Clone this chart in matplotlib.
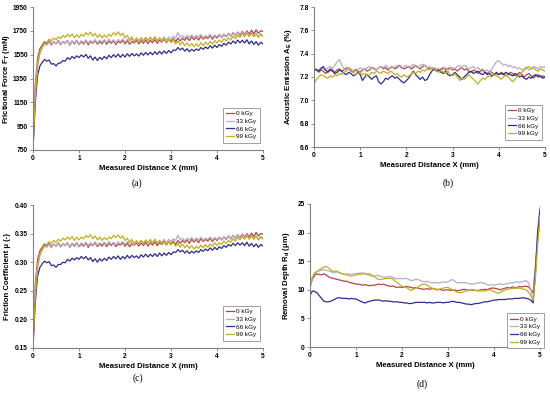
import numpy as np
import matplotlib.pyplot as plt
from matplotlib.ticker import FormatStrFormatter

plt.rcParams['font.family'] = ['Liberation Sans', 'DejaVu Sans']
plt.rcParams['mathtext.fontset'] = 'custom'
plt.rcParams['mathtext.rm'] = 'Liberation Sans'
plt.rcParams['mathtext.bf'] = 'Liberation Sans:bold'

doses = ["0 kGy", "33 kGy", "66 kGy", "99 kGy"]
colors = ["#B0483F", "#B9AAC6", "#2E2E8C", "#C4AE22"]

# measured distance (mm), one sample every 0.05 mm
x = np.linspace(0, 5, 101)

# (a) frictional force (mN)
force_0 = [760, 1300, 1520, 1600, 1630, 1660, 1640, 1665, 1635, 1660,
           1640, 1670, 1635, 1660, 1645, 1670, 1630, 1665, 1640, 1670,
           1635, 1660, 1640, 1668, 1632, 1662, 1645, 1670, 1638, 1660,
           1642, 1672, 1636, 1665, 1645, 1668, 1634, 1662, 1648, 1670,
           1640, 1666, 1638, 1660, 1648, 1672, 1640, 1668, 1645, 1675,
           1642, 1670, 1650, 1676, 1645, 1672, 1655, 1680, 1650, 1678,
           1660, 1685, 1658, 1690, 1665, 1688, 1670, 1695, 1668, 1700,
           1675, 1698, 1672, 1705, 1680, 1700, 1685, 1712, 1680, 1708,
           1690, 1715, 1695, 1720, 1700, 1728, 1705, 1735, 1710, 1740,
           1715, 1745, 1720, 1750, 1722, 1755, 1725, 1758, 1730, 1750,
           1745]
force_33 = [770, 1250, 1480, 1570, 1610, 1640, 1630, 1655, 1625, 1660,
            1640, 1665, 1630, 1662, 1645, 1668, 1635, 1665, 1648, 1672,
            1640, 1668, 1650, 1675, 1645, 1670, 1652, 1678, 1648, 1672,
            1655, 1676, 1650, 1680, 1656, 1675, 1650, 1678, 1660, 1682,
            1655, 1680, 1662, 1685, 1658, 1682, 1665, 1690, 1660, 1688,
            1668, 1692, 1665, 1695, 1670, 1690, 1675, 1700, 1672, 1698,
            1680, 1705, 1690, 1735, 1695, 1710, 1688, 1712, 1695, 1715,
            1690, 1712, 1698, 1718, 1692, 1710, 1700, 1720, 1695, 1715,
            1700, 1722, 1698, 1725, 1705, 1730, 1702, 1735, 1708, 1740,
            1705, 1738, 1710, 1742, 1700, 1735, 1705, 1730, 1700, 1725,
            1710]
force_66 = [760, 1150, 1380, 1455, 1485, 1510, 1495, 1505, 1470, 1475,
            1455, 1478, 1480, 1500, 1495, 1525, 1510, 1535, 1518, 1540,
            1525, 1548, 1530, 1552, 1520, 1540, 1505, 1530, 1500, 1528,
            1510, 1535, 1515, 1545, 1525, 1550, 1530, 1555, 1528, 1552,
            1530, 1558, 1535, 1560, 1540, 1556, 1538, 1565, 1545, 1568,
            1548, 1570, 1550, 1575, 1552, 1578, 1555, 1582, 1560, 1585,
            1565, 1590, 1585, 1610, 1590, 1605, 1580, 1600, 1575, 1595,
            1580, 1598, 1585, 1610, 1595, 1615, 1600, 1625, 1605, 1630,
            1610, 1635, 1620, 1645, 1630, 1655, 1640, 1665, 1645, 1672,
            1650, 1670, 1648, 1675, 1640, 1665, 1635, 1660, 1630, 1655,
            1640]
force_99 = [770, 1200, 1450, 1560, 1610, 1640, 1655, 1680, 1665, 1690,
            1675, 1700, 1685, 1712, 1695, 1720, 1700, 1725, 1692, 1718,
            1695, 1722, 1705, 1735, 1715, 1740, 1705, 1728, 1695, 1720,
            1690, 1715, 1695, 1722, 1705, 1735, 1715, 1742, 1710, 1730,
            1690, 1712, 1675, 1700, 1660, 1690, 1665, 1692, 1668, 1695,
            1670, 1698, 1672, 1700, 1665, 1690, 1660, 1688, 1655, 1680,
            1650, 1675, 1640, 1665, 1632, 1658, 1625, 1650, 1620, 1645,
            1615, 1642, 1620, 1650, 1625, 1655, 1632, 1660, 1640, 1668,
            1648, 1672, 1655, 1685, 1665, 1692, 1675, 1705, 1685, 1715,
            1695, 1725, 1700, 1730, 1705, 1728, 1700, 1725, 1695, 1720,
            1700]

# (b) acoustic emission (%)
ae_0 = [7.25, 7.27, 7.24, 7.26, 7.25, 7.23, 7.25, 7.27, 7.26, 7.24,
        7.26, 7.27, 7.25, 7.26, 7.28, 7.27, 7.25, 7.24, 7.26, 7.25,
        7.24, 7.26, 7.27, 7.25, 7.26, 7.28, 7.27, 7.26, 7.28, 7.29,
        7.27, 7.28, 7.26, 7.28, 7.29, 7.27, 7.28, 7.30, 7.28, 7.27,
        7.28, 7.29, 7.27, 7.28, 7.30, 7.28, 7.27, 7.29, 7.30, 7.28,
        7.27, 7.28, 7.26, 7.27, 7.25, 7.27, 7.28, 7.26, 7.27, 7.28,
        7.26, 7.27, 7.25, 7.27, 7.28, 7.26, 7.27, 7.25, 7.24, 7.26,
        7.25, 7.23, 7.25, 7.26, 7.24, 7.23, 7.25, 7.24, 7.22, 7.23,
        7.22, 7.24, 7.23, 7.21, 7.22, 7.24, 7.23, 7.21, 7.22, 7.24,
        7.22, 7.20, 7.22, 7.23, 7.21, 7.19, 7.21, 7.22, 7.20, 7.21,
        7.20]
ae_33 = [7.25, 7.27, 7.26, 7.28, 7.27, 7.26, 7.28, 7.29, 7.27, 7.30,
         7.33, 7.35, 7.30, 7.27, 7.26, 7.28, 7.27, 7.25, 7.27, 7.26,
         7.28, 7.27, 7.26, 7.28, 7.29, 7.27, 7.28, 7.26, 7.28, 7.29,
         7.28, 7.30, 7.28, 7.27, 7.29, 7.28, 7.30, 7.29, 7.27, 7.29,
         7.30, 7.28, 7.29, 7.31, 7.29, 7.28, 7.30, 7.31, 7.30, 7.28,
         7.29, 7.27, 7.28, 7.26, 7.27, 7.25, 7.27, 7.28, 7.26, 7.27,
         7.28, 7.27, 7.29, 7.30, 7.28, 7.30, 7.29, 7.27, 7.28, 7.29,
         7.27, 7.28, 7.26, 7.27, 7.25, 7.26, 7.24, 7.27, 7.30, 7.33,
         7.34, 7.32, 7.30, 7.31, 7.29, 7.30, 7.28, 7.29, 7.27, 7.28,
         7.26, 7.27, 7.28, 7.26, 7.27, 7.29, 7.28, 7.27, 7.29, 7.28,
         7.29]
ae_66 = [7.27, 7.26, 7.25, 7.27, 7.29, 7.26, 7.24, 7.26, 7.25, 7.23,
         7.24, 7.26, 7.25, 7.23, 7.22, 7.24, 7.23, 7.21, 7.22, 7.24,
         7.22, 7.17, 7.20, 7.22, 7.20, 7.18, 7.20, 7.21, 7.16, 7.14,
         7.16, 7.19, 7.18, 7.20, 7.21, 7.19, 7.20, 7.18, 7.16, 7.15,
         7.17, 7.19, 7.22, 7.25, 7.22, 7.20, 7.18, 7.20, 7.17, 7.18,
         7.22, 7.25, 7.27, 7.25, 7.26, 7.24, 7.23, 7.25, 7.22, 7.21,
         7.22, 7.24, 7.22, 7.20, 7.18, 7.20, 7.22, 7.24, 7.25, 7.23,
         7.24, 7.25, 7.23, 7.22, 7.24, 7.22, 7.23, 7.21, 7.22, 7.24,
         7.22, 7.23, 7.22, 7.24, 7.23, 7.22, 7.21, 7.23, 7.22, 7.20,
         7.21, 7.19, 7.18, 7.20, 7.19, 7.21, 7.22, 7.20, 7.21, 7.19,
         7.20]
ae_99 = [7.14, 7.18, 7.20, 7.22, 7.21, 7.20, 7.19, 7.21, 7.20, 7.22,
         7.21, 7.23, 7.22, 7.24, 7.25, 7.27, 7.26, 7.24, 7.22, 7.23,
         7.24, 7.22, 7.23, 7.21, 7.22, 7.24, 7.23, 7.25, 7.24, 7.23,
         7.25, 7.24, 7.23, 7.25, 7.24, 7.22, 7.23, 7.21, 7.20, 7.22,
         7.20, 7.21, 7.22, 7.24, 7.23, 7.25, 7.24, 7.26, 7.25, 7.27,
         7.26, 7.28, 7.27, 7.25, 7.24, 7.26, 7.24, 7.23, 7.25, 7.22,
         7.21, 7.23, 7.20, 7.17, 7.19, 7.18, 7.20, 7.22, 7.20, 7.18,
         7.16, 7.14, 7.17, 7.19, 7.18, 7.20, 7.21, 7.20, 7.22, 7.21,
         7.20, 7.18, 7.20, 7.22, 7.20, 7.18, 7.16, 7.18, 7.20, 7.22,
         7.24, 7.26, 7.28, 7.29, 7.27, 7.28, 7.26, 7.25, 7.27, 7.26,
         7.25]

# (c) friction coefficient, in thousandths
mu_0 = [152, 262, 305, 320, 326, 332, 328, 333, 327, 332,
        328, 334, 327, 332, 329, 334, 326, 333, 328, 334,
        327, 332, 328, 334, 326, 332, 329, 334, 327, 332,
        328, 334, 327, 333, 329, 334, 327, 332, 330, 334,
        328, 333, 327, 332, 330, 334, 328, 334, 329, 335,
        328, 334, 330, 335, 329, 334, 331, 336, 330, 336,
        332, 337, 331, 338, 333, 338, 334, 339, 333, 340,
        335, 340, 334, 341, 336, 340, 337, 342, 336, 342,
        338, 343, 339, 344, 340, 346, 341, 347, 342, 348,
        343, 349, 344, 350, 344, 351, 345, 352, 346, 350,
        349]
mu_33 = [154, 250, 296, 314, 322, 328, 326, 331, 325, 332,
         328, 333, 326, 332, 329, 334, 327, 333, 330, 334,
         328, 334, 330, 335, 329, 334, 330, 336, 329, 334,
         331, 335, 330, 336, 331, 335, 330, 336, 332, 336,
         331, 336, 332, 337, 331, 336, 333, 338, 332, 338,
         334, 338, 333, 339, 334, 338, 335, 340, 334, 340,
         336, 341, 338, 347, 339, 342, 337, 342, 339, 343,
         338, 342, 339, 344, 338, 342, 340, 344, 339, 343,
         340, 344, 339, 345, 341, 346, 340, 347, 341, 348,
         341, 348, 342, 348, 340, 347, 341, 346, 340, 345,
         342]
mu_66 = [152, 230, 276, 291, 297, 302, 299, 301, 294, 295,
         291, 296, 296, 300, 299, 305, 302, 307, 304, 308,
         305, 310, 306, 310, 304, 308, 301, 306, 300, 306,
         302, 307, 303, 309, 305, 310, 306, 311, 305, 310,
         306, 312, 307, 312, 308, 311, 307, 313, 309, 314,
         309, 314, 310, 315, 310, 316, 311, 316, 312, 317,
         313, 318, 317, 322, 318, 321, 316, 320, 315, 319,
         316, 320, 317, 322, 319, 323, 320, 325, 321, 326,
         322, 327, 324, 329, 326, 331, 328, 333, 329, 334,
         330, 334, 329, 335, 328, 333, 327, 332, 326, 331,
         328]
mu_99 = [154, 240, 290, 312, 322, 328, 331, 336, 333, 338,
         335, 340, 337, 342, 339, 344, 340, 345, 338, 344,
         339, 344, 341, 347, 343, 348, 341, 346, 339, 344,
         338, 343, 339, 344, 341, 347, 343, 348, 342, 346,
         338, 342, 335, 340, 332, 338, 333, 338, 333, 339,
         334, 340, 334, 340, 333, 338, 332, 337, 331, 336,
         330, 335, 328, 333, 326, 332, 325, 330, 324, 329,
         323, 328, 324, 330, 325, 331, 326, 332, 328, 334,
         329, 334, 331, 337, 333, 338, 335, 341, 337, 343,
         339, 345, 340, 346, 341, 346, 340, 345, 339, 344,
         340]

# (d) removal depth (um)
depth_0 = [10.5, 11.8, 12.5, 12.8, 12.7, 12.6, 12.8, 12.6, 12.3, 12.1,
           12.0, 11.9, 11.8, 11.7, 11.6, 11.5, 11.5, 11.3, 11.2, 11.1,
           11.0, 11.0, 10.9, 10.8, 10.9, 10.8, 10.7, 10.8, 10.8, 10.9,
           11.0, 10.9, 11.0, 10.8, 10.7, 10.6, 10.7, 10.5, 10.4, 10.5,
           10.4, 10.5, 10.6, 10.5, 10.4, 10.3, 10.4, 10.3, 10.2, 10.1,
           10.1, 10.2, 10.1, 10.2, 10.2, 10.0, 10.1, 10.0, 9.9, 10.0,
           10.0, 9.9, 9.9, 10.0, 9.8, 9.9, 10.0, 10.1, 10.0, 9.9,
           10.0, 9.9, 9.9, 9.8, 10.0, 10.0, 10.1, 10.0, 10.2, 10.3,
           10.3, 10.2, 10.1, 10.0, 10.2, 10.3, 10.4, 10.3, 10.5, 10.4,
           10.3, 10.6, 10.5, 10.6, 10.6, 10.5, 10.0, 9.5, 14.0, 19.0,
           22.0]
depth_33 = [10.5, 12.0, 13.0, 13.2, 13.3, 13.4, 13.5, 13.4, 13.3, 13.2,
            13.0, 13.1, 13.1, 12.9, 12.8, 12.7, 12.8, 12.8, 12.7, 12.8,
            12.8, 12.9, 12.9, 13.0, 12.8, 12.6, 12.5, 12.4, 12.4, 12.5,
            12.5, 12.3, 12.2, 12.2, 12.3, 12.3, 12.2, 12.0, 11.9, 12.0,
            11.9, 12.0, 12.0, 11.8, 11.6, 11.7, 11.8, 11.8, 11.6, 11.5,
            11.4, 11.5, 11.3, 11.2, 11.3, 11.2, 11.2, 11.3, 11.4, 11.3,
            11.4, 11.6, 11.8, 11.5, 11.2, 11.3, 11.2, 11.3, 11.2, 11.1,
            11.0, 11.0, 11.1, 11.2, 11.3, 11.2, 11.1, 10.9, 10.8, 10.9,
            10.8, 10.9, 11.0, 11.0, 10.9, 11.0, 11.1, 11.2, 11.2, 11.3,
            11.4, 11.3, 11.4, 11.5, 11.6, 11.2, 10.0, 8.0, 14.0, 20.5,
            24.5]
depth_66 = [9.0, 9.8, 9.7, 9.5, 9.0, 8.5, 8.0, 7.9, 7.9, 8.0,
            8.2, 8.4, 8.6, 8.6, 8.5, 8.5, 8.5, 8.4, 8.5, 8.4,
            8.4, 8.2, 8.0, 7.8, 7.7, 7.9, 8.0, 8.1, 8.2, 8.2,
            8.2, 8.1, 8.0, 8.1, 8.0, 8.0, 7.9, 7.9, 7.9, 7.8,
            7.8, 7.7, 7.7, 7.6, 7.6, 7.7, 7.8, 7.8, 7.8, 7.8,
            7.8, 7.7, 7.8, 7.7, 7.7, 7.8, 7.8, 7.8, 7.7, 7.8,
            7.8, 7.9, 8.0, 7.9, 7.8, 7.8, 7.7, 7.6, 7.5, 7.5,
            7.4, 7.5, 7.6, 7.6, 7.7, 7.8, 7.9, 7.9, 8.0, 8.1,
            8.2, 8.2, 8.3, 8.3, 8.3, 8.3, 8.4, 8.4, 8.4, 8.5,
            8.5, 8.5, 8.6, 8.6, 8.5, 8.4, 8.2, 7.7, 13.0, 20.0,
            24.0]
depth_99 = [10.5, 12.2, 12.8, 13.2, 13.5, 13.7, 14.0, 14.1, 13.8, 13.5,
            13.2, 13.3, 13.2, 13.0, 12.8, 12.7, 12.6, 12.5, 12.4, 12.5,
            12.6, 12.7, 12.7, 12.8, 12.8, 12.8, 12.8, 12.5, 12.3, 12.0,
            11.8, 11.8, 11.9, 12.0, 12.0, 12.0, 11.9, 11.5, 11.2, 10.9,
            10.6, 10.5, 10.4, 10.1, 9.9, 10.1, 10.3, 10.5, 10.8, 11.0,
            11.0, 10.8, 10.5, 10.3, 10.2, 10.1, 10.0, 10.2, 10.3, 10.4,
            10.4, 10.2, 10.0, 9.8, 9.6, 9.5, 9.5, 9.7, 9.8, 9.9,
            10.0, 10.0, 9.9, 9.9, 9.8, 9.8, 9.8, 9.9, 10.0, 9.9,
            9.7, 9.5, 9.4, 9.6, 9.8, 10.0, 10.1, 10.2, 10.2, 10.3,
            10.3, 10.3, 10.2, 10.1, 10.0, 9.6, 9.0, 8.2, 12.0, 18.0,
            23.0]

W, H = 550, 395
fig = plt.figure(figsize=(W / 100, H / 100), dpi=100)


def px_axes(left, top, right, bottom):
    return fig.add_axes([left / W, 1 - bottom / H, (right - left) / W, (bottom - top) / H])


def style(ax, ylim, yticks, fmt, ylabel, label_x, legend_anchor):
    ax.set_xlim(0, 5)
    ax.set_ylim(*ylim)
    ax.set_xticks([0, 1, 2, 3, 4, 5])
    ax.set_yticks(yticks)
    ax.yaxis.set_major_formatter(FormatStrFormatter(fmt))
    for s in ["top", "right"]:
        ax.spines[s].set_visible(False)
    for s in ["left", "bottom"]:
        ax.spines[s].set_color("#808080")
        ax.spines[s].set_linewidth(0.8)
    ax.tick_params(direction="out", length=2.5, width=0.6, color="#808080",
                   labelsize=4.8, pad=1.2)
    for lab in ax.get_xticklabels() + ax.get_yticklabels():
        lab.set_fontweight("bold")
    ax.set_xlabel("Measured Distance X (mm)", fontsize=5.6, fontweight="bold", labelpad=2)
    ax.set_ylabel(ylabel, fontsize=5.6, fontweight="bold")
    ax.yaxis.set_label_coords(label_x, 0.5)
    leg = ax.legend(loc="lower right", bbox_to_anchor=legend_anchor, fontsize=4.6,
                    handlelength=1.3, handletextpad=0.3, labelspacing=0.35,
                    borderpad=0.5, fancybox=False, framealpha=1)
    leg.get_frame().set_edgecolor("#909090")
    leg.get_frame().set_linewidth(0.6)


# (a)
ax = px_axes(33, 7, 263, 150)
for y, c, lab in zip([force_0, force_33, force_66, force_99], colors, doses):
    ax.plot(x, y, color=c, lw=0.9, label=lab)
style(ax, (750, 1950), [750, 950, 1150, 1350, 1550, 1750, 1950], "%d",
      "Frictional Force F$_\\mathregular{T}$ (mN)", -0.09, (1.0, 0.03))

# (b)
ax = px_axes(314, 7, 545, 147)
for y, c, lab in zip([ae_0, ae_33, ae_66, ae_99], colors, doses):
    ax.plot(x, y, color=c, lw=0.9, label=lab)
style(ax, (6.6, 7.8), [6.6, 6.8, 7.0, 7.2, 7.4, 7.6, 7.8], "%.1f",
      "Acoustic Emission A$_\\mathregular{E}$ (%)", -0.087, (1.0, 0.03))

# (c)
ax = px_axes(33, 205, 263, 348)
for y, c, lab in zip([mu_0, mu_33, mu_66, mu_99], colors, doses):
    ax.plot(x, np.array(y) / 1000, color=c, lw=0.9, label=lab)
style(ax, (0.15, 0.40), [0.15, 0.20, 0.25, 0.30, 0.35, 0.40], "%.2f",
      "Friction Coefficient \u03bc (-)", -0.095, (1.0, 0.03))

# (d)
ax = px_axes(310, 204, 540, 347)
for y, c, lab in zip([depth_0, depth_33, depth_66, depth_99], colors, doses):
    ax.plot(x, y, color=c, lw=0.9, label=lab)
style(ax, (0, 25), [0, 5, 10, 15, 20, 25], "%d",
      "Removal Depth R$_\\mathregular{d}$ (\u03bcm)", -0.078, (1.03, -0.03))

for lab, cx, cy in [("(a)", 137, 183), ("(b)", 448, 183), ("(c)", 138, 378), ("(d)", 422, 384)]:
    fig.text(cx / W, 1 - cy / H, lab, ha="center", va="center", fontsize=7,
             family="Liberation Serif")

plt.savefig("out.png", dpi=100)
